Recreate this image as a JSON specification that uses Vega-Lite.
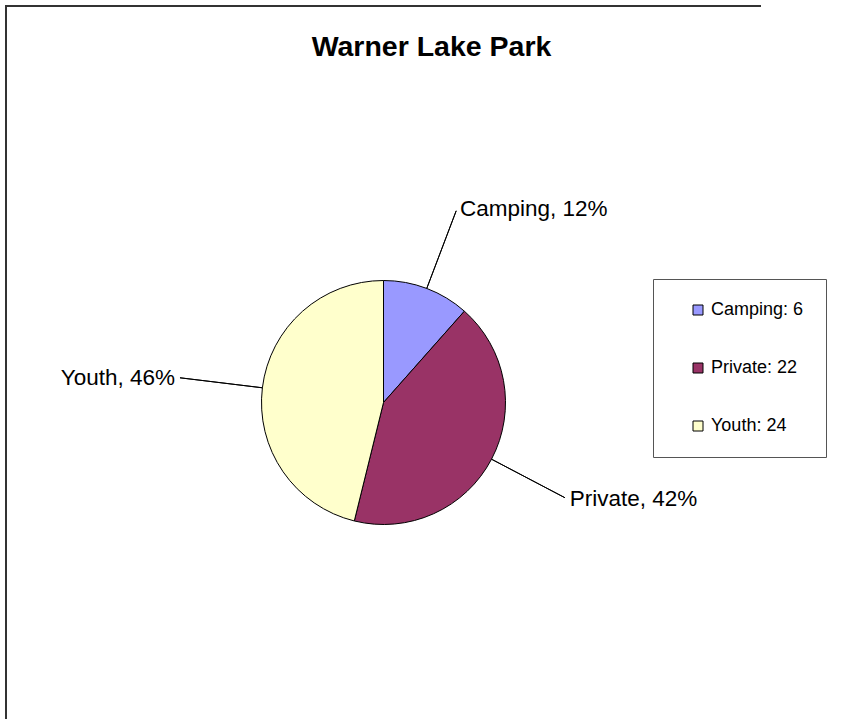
{
  "$schema": "https://vega.github.io/schema/vega-lite/v6.json",
  "width": 755,
  "height": 793,
  "autosize": {"type": "none"},
  "padding": {"left": 6, "top": 6, "right": 84, "bottom": 0},
  "background": "white",
  "view": {"stroke": "#333333", "strokeWidth": 2, "strokeDash": [755, 1548, 793]},
  "config": {
    "view": {"stroke": "#333333", "strokeWidth": 2, "strokeDash": [755, 1548, 793]},
    "font": "Liberation Sans"
  },
  "title": {
    "text": "Warner Lake Park",
    "fontSize": 28.5,
    "fontWeight": "bold",
    "font": "Liberation Sans",
    "color": "black",
    "anchor": "middle",
    "frame": "group",
    "baseline": "alphabetic",
    "offset": 0,
    "dx": 48,
    "dy": 78
  },
  "data": {
    "values": [
      {"category": "Camping", "value": 6, "label": "Camping, 12%", "legend": "Camping: 6"},
      {"category": "Private", "value": 22, "label": "Private, 42%", "legend": "Private: 22"},
      {"category": "Youth", "value": 24, "label": "Youth, 46%", "legend": "Youth: 24"}
    ]
  },
  "layer": [
    {
      "mark": {"type": "arc", "radius": 122, "stroke": "black", "strokeWidth": 1},
      "encoding": {
        "theta": {"field": "value", "type": "quantitative", "stack": true},
        "color": {
          "field": "legend",
          "type": "nominal",
          "scale": {"domain": ["Camping: 6", "Private: 22", "Youth: 24"], "range": ["#9999FF", "#993366", "#FFFFCC"]},
          "legend": {
            "orient": "none",
            "legendX": 647,
            "legendY": 273,
            "title": null,
            "symbolType": "square",
            "symbolSize": 100,
            "symbolStrokeColor": "black",
            "symbolStrokeWidth": 1,
            "symbolOffset": 14,
            "labelFontSize": 18,
            "labelFont": "Liberation Sans",
            "labelColor": "black",
            "labelOffset": 4,
            "rowPadding": 40,
            "padding": 22,
            "strokeColor": "#555555",
            "fillColor": "white"
          }
        }
      }
    },
    {
      "transform": [
        {"stack": "value", "groupby": [], "sort": [{"field": "category"}], "as": ["s0", "s1"]},
        {"calculate": "(datum.s0 + datum.s1) / 2", "as": "mid"}
      ],
      "layer": [
        {
          "mark": {"type": "arc", "radius": 205, "radius2": 122, "filled": false, "stroke": "black", "strokeWidth": 1},
          "encoding": {
            "theta": {"field": "mid", "type": "quantitative"},
            "theta2": {"field": "mid"}
          }
        },
        {
          "mark": {
            "type": "text",
            "radius": 207,
            "fontSize": 22.5,
            "font": "Liberation Sans",
            "color": "black",
            "baseline": "middle",
            "align": {"expr": "datum.category === 'Youth' ? 'right' : 'left'"},
            "dx": {"expr": "datum.category === 'Youth' ? -3 : 3"}
          },
          "encoding": {
            "theta": {"field": "mid", "type": "quantitative"},
            "text": {"field": "label"}
          }
        }
      ]
    }
  ]
}
